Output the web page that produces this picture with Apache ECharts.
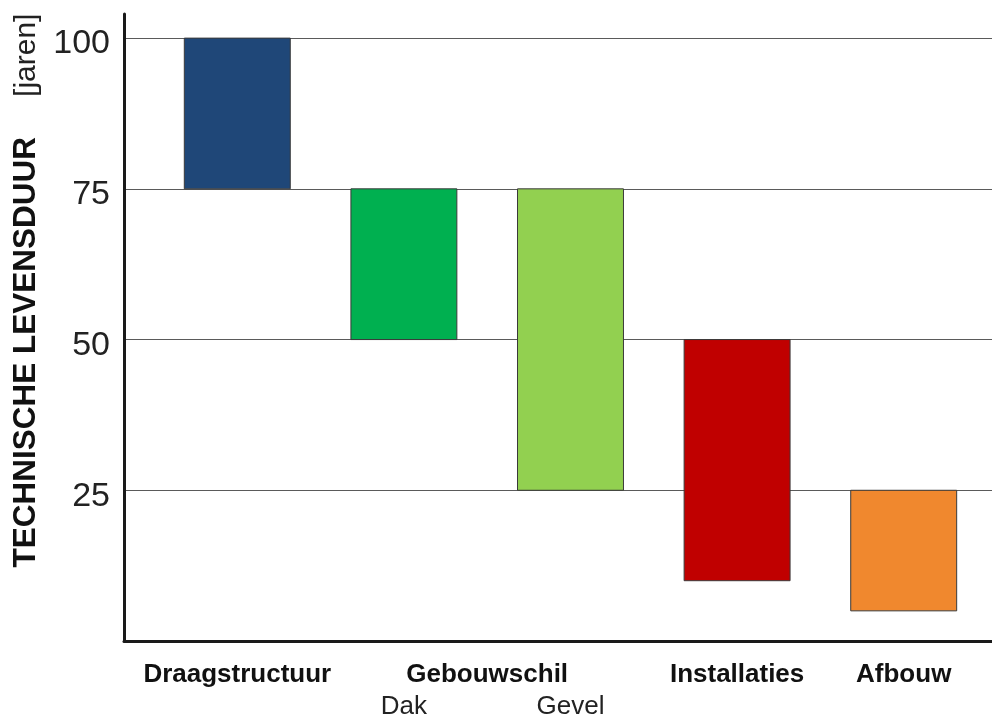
<!DOCTYPE html>
<html>
<head>
<meta charset="utf-8">
<script src="https://cdn.jsdelivr.net/npm/echarts@6/dist/echarts.min.js"></script>
<style>
  html, body { margin: 0; padding: 0; background: #fff; }
  #chart { width: 992px; height: 717px; }
</style>
</head>
<body>
<div id="chart"></div>
<script>
// bar slots along the x axis (0 = Draagstructuur ... 4 = Afbouw)
const slots = [0, 1, 2, 3, 4]
const lowYears = [75, 50, 25, 10, 5]
const highYears = [100, 75, 75, 50, 25]
const barColors = ['#1f4778', '#00b050', '#92d050', '#c00000', '#f0882e']

// main labels and sub labels, with their slot positions
const groupLabels = ['Draagstructuur', 'Gebouwschil', 'Installaties', 'Afbouw']
const groupPos = [0, 1.5, 3, 4]
const subLabels = ['Dak', 'Gevel']
const subPos = [1, 2]

const yTicks = [25, 50, 75, 100]

const font = "'Liberation Sans', Arial, sans-serif"

const chart = echarts.init(document.getElementById('chart'))

const xBase = {
  type: 'value',
  min: -0.68,
  max: 4.53,
  position: 'bottom',
  splitLine: { show: false },
  axisTick: { show: false }
}

chart.setOption({
  animation: false,
  grid: { left: 124, right: 0, top: 14, bottom: 76, outerBoundsMode: 'none' },
  xAxis: [
    {
      ...xBase,
      axisLine: { show: true, lineStyle: { color: '#1a1a1a', width: 3 } },
      axisLabel: {
        customValues: groupPos,
        formatter: v => groupLabels[groupPos.indexOf(v)],
        margin: 21,
        fontFamily: font,
        fontSize: 26,
        fontWeight: 'bold',
        color: '#111'
      }
    },
    {
      ...xBase,
      axisLine: { show: false },
      axisLabel: {
        customValues: subPos,
        formatter: v => subLabels[subPos.indexOf(v)],
        margin: 53,
        fontFamily: font,
        fontSize: 26,
        color: '#222'
      }
    }
  ],
  yAxis: {
    type: 'value',
    min: 0,
    max: 104,
    interval: 25,
    axisLine: { show: true, onZero: false, lineStyle: { color: '#1a1a1a', width: 3 } },
    axisTick: { show: false },
    axisLabel: {
      customValues: yTicks,
      margin: 14,
      formatter: v => '{t|' + v + '}',
      rich: {
        t: { fontFamily: font, fontSize: 34, color: '#222', padding: [12, 0, 0, 0] }
      }
    },
    splitLine: {
      show: true,
      showMinLine: false,
      showMaxLine: false,
      lineStyle: { color: '#5a5a5a', width: 1 }
    },
    name: '{b|TECHNISCHE LEVENSDUUR}{g|}{n|[jaren]}',
    nameLocation: 'middle',
    nameRotate: 90,
    nameGap: 80,
    nameTextStyle: {
      padding: [0, 0, 0, 74],
      rich: {
        b: { fontFamily: font, fontSize: 31.5, fontWeight: 'bold', color: '#111' },
        g: { width: 40 },
        n: { fontFamily: font, fontSize: 30, color: '#222' }
      }
    }
  },
  series: [{
    type: 'custom',
    xAxisIndex: 0,
    encode: { x: 0, y: [1, 2] },
    data: slots.map((s, i) => [s, lowYears[i], highYears[i]]),
    renderItem(params, api) {
      const x = api.value(0)
      const top = api.coord([x, api.value(2)])
      const bottom = api.coord([x, api.value(1)])
      const w = api.size([0.636, 0])[0]
      return {
        type: 'rect',
        shape: { x: top[0] - w / 2, y: top[1], width: w, height: bottom[1] - top[1] },
        style: { fill: barColors[params.dataIndex], stroke: '#3a3a3a', lineWidth: 1 }
      }
    }
  }]
})
</script>
</body>
</html>
